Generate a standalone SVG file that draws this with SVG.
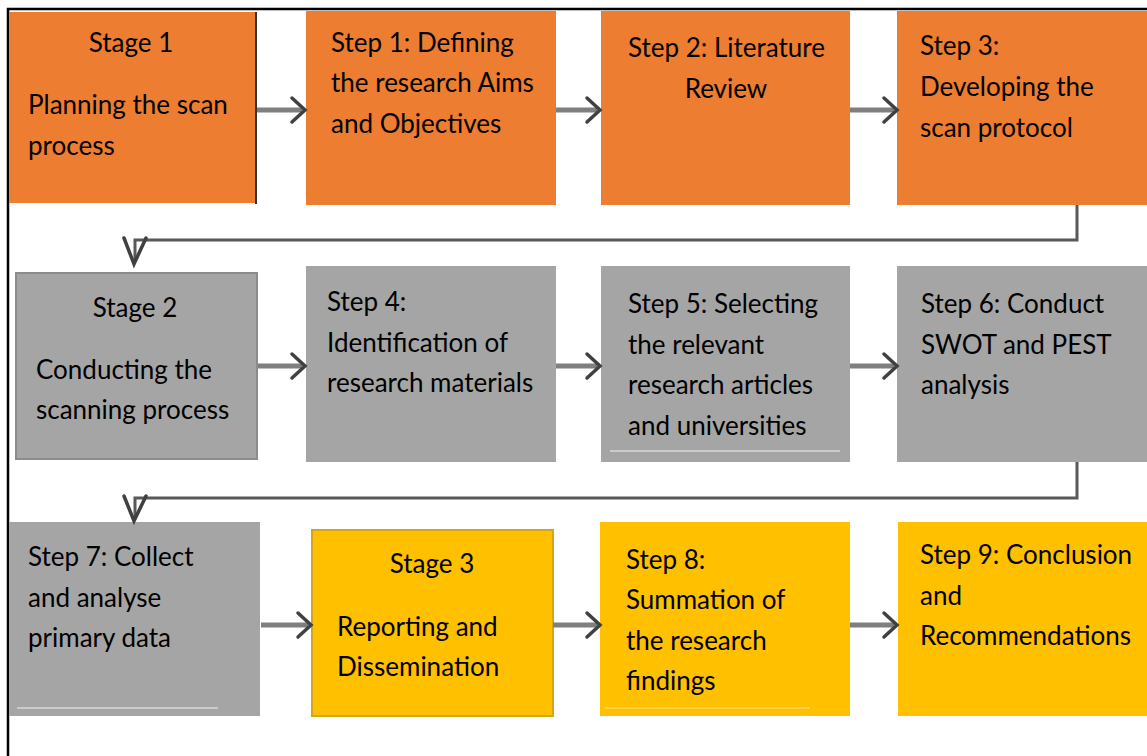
<svg xmlns="http://www.w3.org/2000/svg" width="1147" height="756" viewBox="0 0 1147 756">
<style>
.t{font-family:Lato,"Liberation Sans",sans-serif;font-size:26px;fill:#000}
.c{text-anchor:middle}
.or{fill:#ED7D31}
.gr{fill:#A5A5A5}
.ye{fill:#FFC000}
.sh{stroke:#7F7F7F;stroke-width:5;fill:none}
.hd{stroke:#404040;stroke-width:3.5;fill:none;stroke-linecap:round;stroke-linejoin:miter}
.el{stroke:#595959;stroke-width:3;fill:none}
.ul{stroke:#D9D9D9;stroke-width:1.5}
</style>
<rect width="1147" height="756" fill="#fff"/>
<path d="M8 756 V9 H1147" stroke="#000" stroke-width="2.5" fill="none"/>

<g id="stage1">
<rect class="or" x="9" y="12" width="247" height="191"/>
<line x1="256" y1="12" x2="256" y2="204" stroke="#333" stroke-width="2"/>
<text class="t c" x="131" y="52">Stage 1</text>
<text class="t" x="28" y="114">Planning the scan</text>
<text class="t" x="28" y="155">process</text>
</g>
<g id="step1">
<rect class="or" x="306" y="11" width="250" height="194"/>
<text class="t" x="331" y="52">Step 1: Defining</text>
<text class="t" x="331" y="92">the research Aims</text>
<text class="t" x="331" y="133">and Objectives</text>
</g>
<g id="step2">
<rect class="or" x="601" y="11" width="249" height="194"/>
<text class="t" x="628" y="57">Step 2: Literature</text>
<text class="t c" x="726" y="98">Review</text>
</g>
<g id="step3">
<rect class="or" x="897" y="11" width="250" height="194"/>
<text class="t" x="920" y="55">Step 3:</text>
<text class="t" x="920" y="96">Developing the</text>
<text class="t" x="920" y="137">scan protocol</text>
</g>

<g id="stage2">
<rect class="gr" x="16" y="273" width="241" height="186" stroke="#8C8C8C" stroke-width="2"/>
<text class="t c" x="135" y="317">Stage 2</text>
<text class="t" x="36" y="379">Conducting the</text>
<text class="t" x="36" y="419">scanning process</text>
</g>
<g id="step4">
<rect class="gr" x="306" y="266" width="250" height="196"/>
<text class="t" x="327" y="311">Step 4:</text>
<text class="t" x="327" y="352">Identification of</text>
<text class="t" x="327" y="392">research materials</text>
</g>
<g id="step5">
<rect class="gr" x="601" y="266" width="249" height="196"/>
<text class="t" x="628" y="313">Step 5: Selecting</text>
<text class="t" x="628" y="354">the relevant</text>
<text class="t" x="628" y="394">research articles</text>
<text class="t" x="628" y="435">and universities</text>
<line class="ul" x1="610" y1="451" x2="840" y2="451"/>
</g>
<g id="step6">
<rect class="gr" x="897" y="266" width="250" height="196"/>
<text class="t" x="921" y="313">Step 6: Conduct</text>
<text class="t" x="921" y="354">SWOT and PEST</text>
<text class="t" x="921" y="394">analysis</text>
</g>

<g id="step7">
<rect class="gr" x="9" y="522" width="251" height="194"/>
<text class="t" x="28" y="566">Step 7: Collect</text>
<text class="t" x="28" y="607">and analyse</text>
<text class="t" x="28" y="647">primary data</text>
<line class="ul" x1="17" y1="708" x2="218" y2="708"/>
</g>
<g id="stage3">
<rect class="ye" x="312" y="530" width="241" height="186" stroke="#D4A51A" stroke-width="2"/>
<text class="t c" x="432" y="573">Stage 3</text>
<text class="t" x="337" y="636">Reporting and</text>
<text class="t" x="337" y="676">Dissemination</text>
</g>
<g id="step8">
<rect class="ye" x="600" y="522" width="250" height="194"/>
<text class="t" x="626" y="569">Step 8:</text>
<text class="t" x="626" y="609">Summation of</text>
<text class="t" x="626" y="650">the research</text>
<text class="t" x="626" y="690">findings</text>
<line x1="605" y1="708" x2="810" y2="708" stroke="#FFD966" stroke-width="1.5"/>
</g>
<g id="step9">
<rect class="ye" x="898" y="522" width="249" height="194"/>
<text class="t" x="920" y="564">Step 9: Conclusion</text>
<text class="t" x="920" y="605">and</text>
<text class="t" x="920" y="645">Recommendations</text>
</g>

<g id="connectors">
<line class="sh" x1="257" y1="110" x2="302" y2="110"/><path class="hd" d="M292 98 L305 110 L292 122"/>
<line class="sh" x1="556" y1="110" x2="597" y2="110"/><path class="hd" d="M587 98 L600 110 L587 122"/>
<line class="sh" x1="850" y1="110" x2="894" y2="110"/><path class="hd" d="M884 98 L897 110 L884 122"/>
<line class="sh" x1="258" y1="366" x2="302" y2="366"/><path class="hd" d="M292 354 L305 366 L292 378"/>
<line class="sh" x1="556" y1="366" x2="597" y2="366"/><path class="hd" d="M587 354 L600 366 L587 378"/>
<line class="sh" x1="850" y1="366" x2="894" y2="366"/><path class="hd" d="M884 354 L897 366 L884 378"/>
<line class="sh" x1="261" y1="625" x2="308" y2="625"/><path class="hd" d="M298 613 L311 625 L298 637"/>
<line class="sh" x1="553" y1="625" x2="597" y2="625"/><path class="hd" d="M587 613 L600 625 L587 637"/>
<line class="sh" x1="850" y1="625" x2="894" y2="625"/><path class="hd" d="M884 613 L897 625 L884 637"/>
<path class="el" d="M1077 205 V240 H135 V262"/>
<path class="hd" d="M124 238 L134 264 L146 238"/>
<path class="el" d="M1077 462 V498 H135 V519"/>
<path class="hd" d="M124 496 L134 521 L146 496"/>
</g>
</svg>
